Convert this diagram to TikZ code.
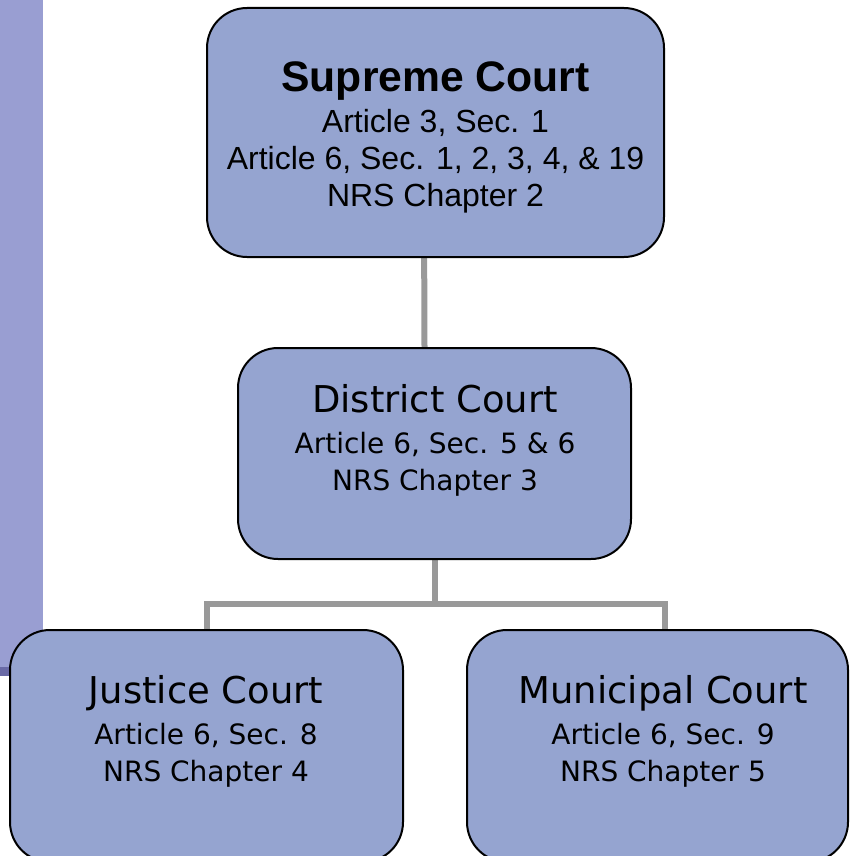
\documentclass[tikz,border=0pt]{standalone}
\usepackage{fontspec}
\newfontfamily\arialfont{Liberation Sans}
\newfontfamily\tahomafont{DejaVu Sans}
\usepackage{xcolor}
\definecolor{boxblue}{RGB}{149, 164, 208}
\definecolor{barblue}{RGB}{153, 158, 210}
\definecolor{stripblue}{RGB}{106, 106, 166}
\definecolor{linkgray}{RGB}{153, 153, 153}
\usepackage{tikz}
\usetikzlibrary{positioning, calc, backgrounds}

\begin{document}
\begin{tikzpicture}[x=0.75pt, y=-0.75pt,
        courtbox/.style={rectangle, draw=black, line width=1.5pt, fill=boxblue, rounded corners=30pt, inner sep=0pt},
        toptext/.style={anchor=base, align=center, inner sep=0pt, font=\arialfont\fontsize{24}{27.75}\selectfont},
        lowtext/.style={anchor=base, align=center, inner sep=0pt, font=\tahomafont\fontsize{21}{27.75}\selectfont},
        line/.style={draw=linkgray, line width=4.5pt}]
        \useasboundingbox (0,0) rectangle (849,856);

        % Franja lateral
        \fill[barblue] (0,0) rectangle (43,667);
        \fill[stripblue] (0,667) rectangle (43,676);

        % Fila 1
        \node [courtbox, minimum width=342.75pt, minimum height=186.75pt] (supreme) at (435.5,132.5) {};
        \node [toptext] (supremetext) at (435.5,206) {{\fontsize{32}{32}\selectfont\bfseries Supreme Court}\\[3pt]Article 3, Sec. 1\\Article 6, Sec. 1, 2, 3, 4, \& 19\\NRS Chapter 2};

        % Fila 2
        \node [courtbox, minimum width=294.75pt, minimum height=158.25pt] (district) at (434.5,453.5) {};
        \node [lowtext] (districttext) at (435,490) {{\fontsize{27.7}{27.7}\selectfont District Court}\\[3pt]Article 6, Sec. 5 \& 6\\NRS Chapter 3};

        % Fila 3
        \node [courtbox, minimum width=294.75pt, minimum height=174pt] (justice) at (206.5,746) {};
        \node [lowtext] (justicetext) at (206,781) {{\fontsize{27.7}{27.7}\selectfont Justice Court}\\[3pt]Article 6, Sec. 8\\NRS Chapter 4};
        \node [courtbox, minimum width=285.75pt, minimum height=174pt] (municipal) at (657.5,746) {};
        \node [lowtext] (municipaltext) at (663,781) {{\fontsize{27.7}{27.7}\selectfont Municipal Court}\\[3pt]Article 6, Sec. 9\\NRS Chapter 5};

        \begin{scope}[on background layer]
            \path [line] ([xshift=-8.5]supreme.south) -- ([xshift=-7.5]district.north);
            \path [line] (district.south) -- ++(0,44) coordinate (fork);
            \path [line] (justice.north) |- (fork) -| ([xshift=5.5]municipal.north);
        \end{scope}
    \end{tikzpicture}
\end{document}
